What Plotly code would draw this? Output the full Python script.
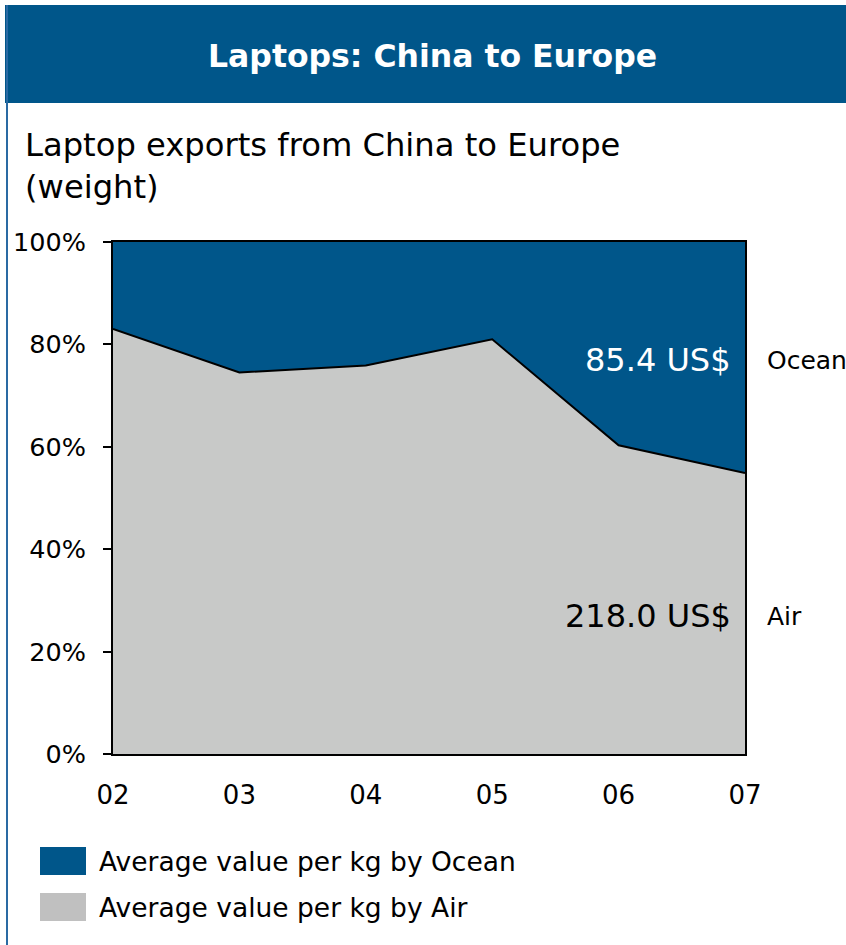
import plotly.graph_objects as go

years = ["02", "03", "04", "05", "06", "07"]
air_share = [83.0, 74.5, 75.9, 81.0, 60.3, 54.9]
ocean_share = [round(100 - a, 1) for a in air_share]
y_ticks = [0, 20, 40, 60, 80, 100]
y_tick_text = [f"{v}%" for v in y_ticks]

BLUE = "#00568a"
GRAY = "#c8c9c8"
LEG_GRAY = "#c0c0c0"
FONT = "DejaVu Sans"

W, H = 846, 945
L, R, T, B = 113, 745, 242, 754


def px(x):
    return (x - L) / (R - L)


def py(y):
    return (B - y) / (B - T)


fig = go.Figure()
fig.add_trace(go.Scatter(
    x=years, y=air_share, mode="lines", stackgroup="one",
    fillcolor=GRAY, line=dict(color="black", width=2),
    name="Average value per kg by Air", showlegend=False,
))
fig.add_trace(go.Scatter(
    x=years, y=ocean_share, mode="lines", stackgroup="one",
    fillcolor=BLUE, line=dict(color="black", width=0),
    name="Average value per kg by Ocean", showlegend=False,
))

shapes = [
    dict(type="rect", xref="paper", yref="paper",
         x0=px(5), x1=px(846), y0=py(103), y1=py(5),
         fillcolor=BLUE, line=dict(width=0), layer="below"),
    dict(type="line", xref="paper", yref="paper",
         x0=px(7), x1=px(7), y0=py(5), y1=py(945),
         line=dict(color="#2a6aa3", width=2)),
    dict(type="rect", xref="paper", yref="paper",
         x0=px(40), x1=px(86), y0=py(875), y1=py(847),
         fillcolor=BLUE, line=dict(width=0)),
    dict(type="rect", xref="paper", yref="paper",
         x0=px(40), x1=px(86), y0=py(921), y1=py(893),
         fillcolor=LEG_GRAY, line=dict(width=0)),
]

annotations = [
    dict(text="<b>Laptops: China to Europe</b>", xref="paper", yref="paper",
         x=px(432), y=py(56), xanchor="center", yanchor="middle",
         showarrow=False, font=dict(family=FONT, size=31.5, color="white")),
    dict(text="Laptop exports from China to Europe<br>(weight)", xref="paper", yref="paper",
         x=px(23), y=py(124), xanchor="left", yanchor="top", align="left",
         showarrow=False, font=dict(family=FONT, size=32.2, color="black")),
    dict(text="85.4 US$", xref="paper", yref="paper",
         x=px(733), y=py(360), xanchor="right", yanchor="middle",
         showarrow=False, font=dict(family=FONT, size=32, color="white")),
    dict(text="218.0 US$", xref="paper", yref="paper",
         x=px(733), y=py(616), xanchor="right", yanchor="middle",
         showarrow=False, font=dict(family=FONT, size=32, color="black")),
    dict(text="Ocean", xref="paper", yref="paper",
         x=px(765), y=py(360), xanchor="left", yanchor="middle",
         showarrow=False, font=dict(family=FONT, size=25, color="black")),
    dict(text="Air", xref="paper", yref="paper",
         x=px(765), y=py(616), xanchor="left", yanchor="middle",
         showarrow=False, font=dict(family=FONT, size=25, color="black")),
    dict(text="Average value per kg by Ocean", xref="paper", yref="paper",
         x=px(97), y=py(861), xanchor="left", yanchor="middle",
         showarrow=False, font=dict(family=FONT, size=26.5, color="black")),
    dict(text="Average value per kg by Air", xref="paper", yref="paper",
         x=px(97), y=py(907), xanchor="left", yanchor="middle",
         showarrow=False, font=dict(family=FONT, size=26.5, color="black")),
]

fig.update_layout(
    width=W, height=H,
    margin=dict(l=L, r=W - R, t=T, b=H - B, pad=0),
    paper_bgcolor="white", plot_bgcolor="white",
    shapes=shapes, annotations=annotations,
    showlegend=False,
    font=dict(family=FONT, color="black"),
)
fig.update_xaxes(
    type="category", range=[0, 5], showgrid=False, zeroline=False,
    showline=True, linecolor="black", linewidth=2, mirror=True,
    ticks="", tickfont=dict(family=FONT, size=26, color="black"),
    ticklabelstandoff=17,
)
fig.update_yaxes(
    range=[0, 100], tickmode="array", tickvals=y_ticks, ticktext=y_tick_text,
    showgrid=False, zeroline=False,
    showline=True, linecolor="black", linewidth=2, mirror=True,
    ticks="outside", ticklen=8, tickwidth=2, tickcolor="black",
    tickfont=dict(family=FONT, size=25.5, color="black"),
    ticklabelstandoff=12,
)

fig.write_html("out.html", config={"displayModeBar": False},
               post_script="document.body.style.margin='0';")
